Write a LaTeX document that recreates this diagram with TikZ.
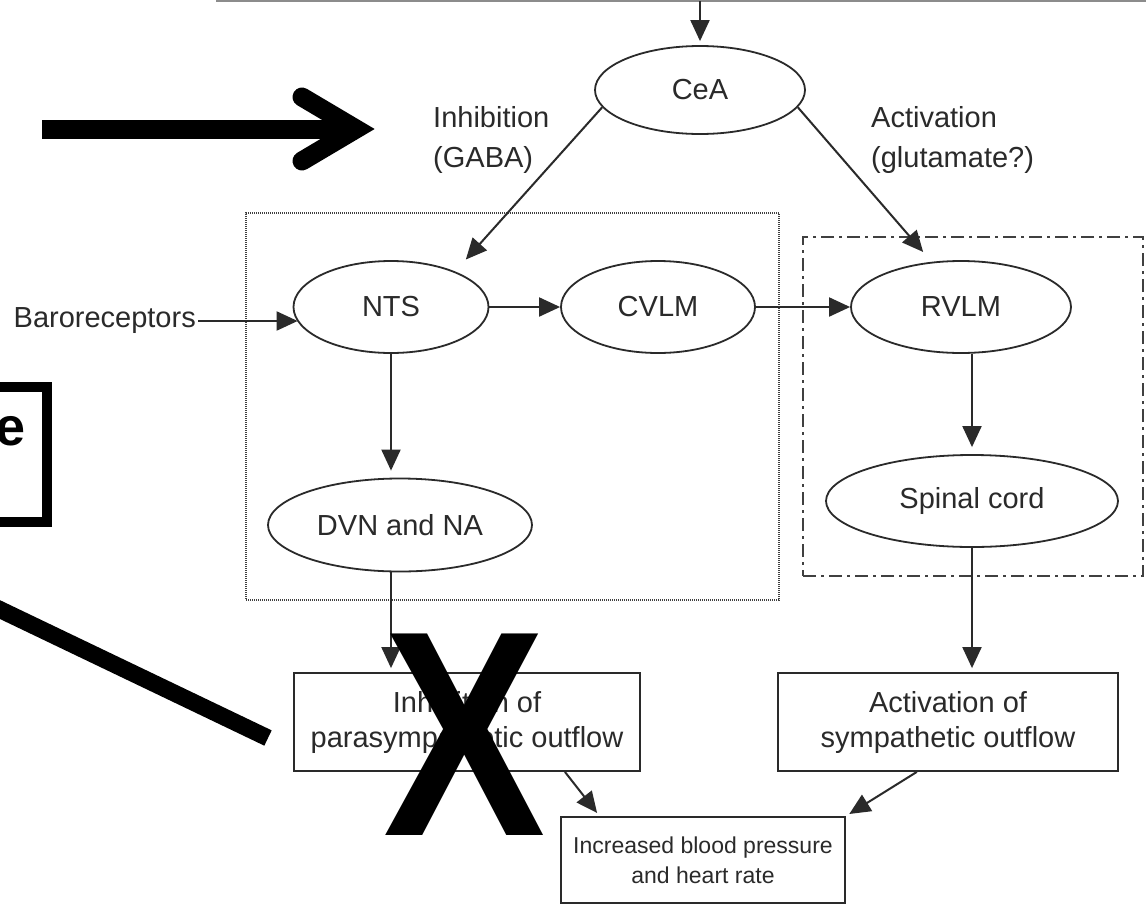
\documentclass[tikz,border=0pt]{standalone}
\usepackage{fontspec}
\setmainfont{Liberation Sans}
\usetikzlibrary{shapes.geometric,arrows.meta,calc}
\definecolor{ink}{HTML}{2A2A2A}
\newcommand\labfont{\fontsize{29}{35}\selectfont}
\newcommand\tagfont{\fontsize{29}{40}\selectfont}
\newcommand\incfont{\fontsize{23}{30}\selectfont}
\begin{document}
\begin{tikzpicture}[x=1pt,y=-1pt,
  ell/.style={ellipse, draw=ink, line width=1.8pt, inner sep=0pt, text=ink, font=\labfont},
  box/.style={rectangle, draw=ink, line width=1.8pt, inner sep=0pt, align=center, text=ink, font=\labfont},
  txt/.style={inner sep=2pt, text=ink, font=\labfont},
  arr/.style={-{Triangle[length=21pt,width=19pt]}, line width=2pt, draw=ink},
  dotbox/.style={draw=black!75, line width=2pt, dash pattern=on 1pt off 1pt, inner sep=0pt},
  dashdotbox/.style={draw=black!75, line width=2.2pt, dash pattern=on 13pt off 5pt on 3pt off 5pt, inner sep=0pt},
  heavy/.style={draw=black, line width=19pt}
]
\useasboundingbox (0,0) rectangle (1146,908);
\clip (0,0) rectangle (1146,908);
\fill[white] (0,0) rectangle (1146,908);

% top line
\coordinate (tl) at (216,1);
\coordinate (tr) at (1146,1);
\draw[black!45, line width=2pt] (tl) -- (tr);

% container boxes
\node[dotbox, minimum width=533pt, minimum height=387pt] (medulla) at (512.5,406.5) {};
\node[dashdotbox, minimum width=340pt, minimum height=339pt] (symp) at (973,406.5) {};

% nodes
\node[ell, minimum width=210pt, minimum height=88pt] (CeA) at (700,90) {CeA};
\node[ell, minimum width=195pt, minimum height=92pt] (NTS) at (391,307) {NTS};
\node[ell, minimum width=194pt, minimum height=92pt] (CVLM) at (658,307) {CVLM};
\node[ell, minimum width=220pt, minimum height=92pt] (RVLM) at (961,307) {RVLM};
\node[ell, minimum width=264pt, minimum height=93pt] (DVN) at (400,525) {DVN and NA};
\node[ell, minimum width=292pt, minimum height=92pt] (SC) at (972,501) {Spinal cord};

\node[box, minimum width=346pt, minimum height=98pt] (Inh) at (467,722) {Inhibition of\\parasympathetic outflow};
\node[box, minimum width=340pt, minimum height=98pt] (Act) at (948,722) {Activation of\\sympathetic outflow};
\node[box, minimum width=284pt, minimum height=86pt, font=\incfont] (Inc) at (703,860) {Increased blood pressure\\and heart rate};

\node[txt, anchor=east] (Baro) at (198,321) {Baroreceptors};
\node[txt, anchor=west, align=left, font=\tagfont] (LInh) at (431,140) {Inhibition\\(GABA)};
\node[txt, anchor=west, align=left, font=\tagfont] (LAct) at (869,140) {Activation\\(glutamate?)};

% connectors
\coordinate (topin) at (CeA.north |- tl);
\draw[arr, shorten >=4pt] (topin) -- (CeA.north);
\draw[arr, shorten >=16pt] (CeA.190) -- (NTS.29);
\draw[arr, shorten >=13pt] (CeA.-10) -- (RVLM.123);
\draw[arr] (Baro.east) -- (Baro.east -| NTS.189);
\draw[arr] (NTS.east) -- (CVLM.west);
\draw[arr] (CVLM.east) -- (RVLM.west);
\draw[arr, shorten >=7pt] (NTS.south) -- (NTS.south |- DVN.north);
\draw[arr, shorten >=4pt] (NTS.south |- DVN.south) -- (NTS.south |- Inh.north);
\draw[arr, shorten >=7pt] (SC.north |- RVLM.south) -- (SC.north);
\draw[arr, shorten >=4pt] (SC.south) -- (SC.south |- Act.north);
\draw[arr, shorten >=4pt] (Inh.-27) -- (Inc.157);
\draw[arr, shorten >=4pt] (Act.238) -- (Inc.north east);

% overlaid annotation marks
\draw[heavy] (42,129) -- (356,129);
\draw[heavy, line cap=round, line join=miter] (302,97) -- (356,129) -- (302,161);
\draw[draw=black, line width=17pt] (-20,600) -- (268,738);
\draw[draw=black, line width=10pt, line join=miter] (-30,387) -- (47,387) -- (47,522) -- (-30,522);
\node[anchor=base east, inner sep=0pt, font=\bfseries\fontsize{54}{54}\selectfont] (ech) at (26,445) {e};
\node[inner sep=0pt, font=\bfseries\fontsize{293}{293}\selectfont] (bigX) at (465,735) {\scalebox{0.83}[1]{X}};
\end{tikzpicture}
\end{document}
